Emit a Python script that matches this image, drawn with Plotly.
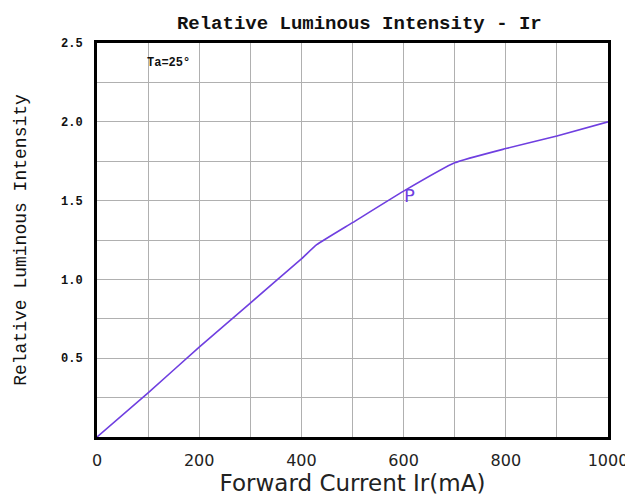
import plotly.graph_objects as go

current_ma = [0, 100, 200, 300, 400, 430, 500, 600, 700, 800, 900, 1000]
rel_intensity = [0.0, 0.28, 0.57, 0.85, 1.13, 1.22, 1.36, 1.56, 1.74, 1.83, 1.91, 2.0]

x_grid = list(range(0, 1001, 100))
x_labels = ["0", "", "200", "", "400", "", "600", "", "800", "", "1000"]
y_grid = [0, 0.25, 0.5, 0.75, 1.0, 1.25, 1.5, 1.75, 2.0, 2.25, 2.5]
y_labels = ["", "", "0.5", "", "1.0", "", "1.5", "", "2.0", "", "2.5"]

mono = "Liberation Mono"
line_color = "#6f3fe0"

fig = go.Figure()
fig.add_trace(go.Scatter(x=current_ma, y=rel_intensity, mode="lines",
                         line=dict(color=line_color, width=1.6, shape="spline", smoothing=0.4),
                         showlegend=False))

fig.add_annotation(x=94, y=2.37, text="<b>Ta=25°</b>", showarrow=False, xanchor="left",
                   font=dict(family=mono, size=12, color="#111"))
fig.add_annotation(x=596, y=1.53, text="P", showarrow=False, xanchor="left",
                   font=dict(family="DejaVu Sans", size=18, color=line_color))

fig.update_layout(
    width=633, height=499,
    margin=dict(l=89, r=33, t=35, b=70, autoexpand=False),
    paper_bgcolor="white", plot_bgcolor="white",
    title=dict(text="<b>Relative Luminous Intensity - Ir</b>", x=0.555, xanchor="center",
               y=0.985, yanchor="top",
               font=dict(family=mono, size=19, color="#111")),
    xaxis=dict(range=[0, 1000], tickvals=x_grid, ticktext=x_labels,
               showgrid=True, gridcolor="#b0b0b0", gridwidth=1.3,
               showline=True, linecolor="black", linewidth=3, mirror=True,
               ticks="", zeroline=False, automargin=False, ticklabelstandoff=7,
               tickfont=dict(family="DejaVu Sans", size=16, color="#222"),
               title=dict(text="Forward Current Ir(mA)", standoff=0,
                          font=dict(family="DejaVu Sans", size=23, color="#222"))),
    yaxis=dict(range=[0, 2.5], tickvals=y_grid, ticktext=y_labels,
               showgrid=True, gridcolor="#b0b0b0", gridwidth=1.3,
               showline=True, linecolor="black", linewidth=3, mirror=True,
               ticks="", zeroline=False, ticklabelstandoff=9, automargin=False,
               tickfont=dict(family=mono, size=12, color="#111", weight="bold"),
               title=dict(text="Relative Luminous Intensity", standoff=30,
                          font=dict(family=mono, size=18, color="#111"))),
)

fig.write_html("out.html")
